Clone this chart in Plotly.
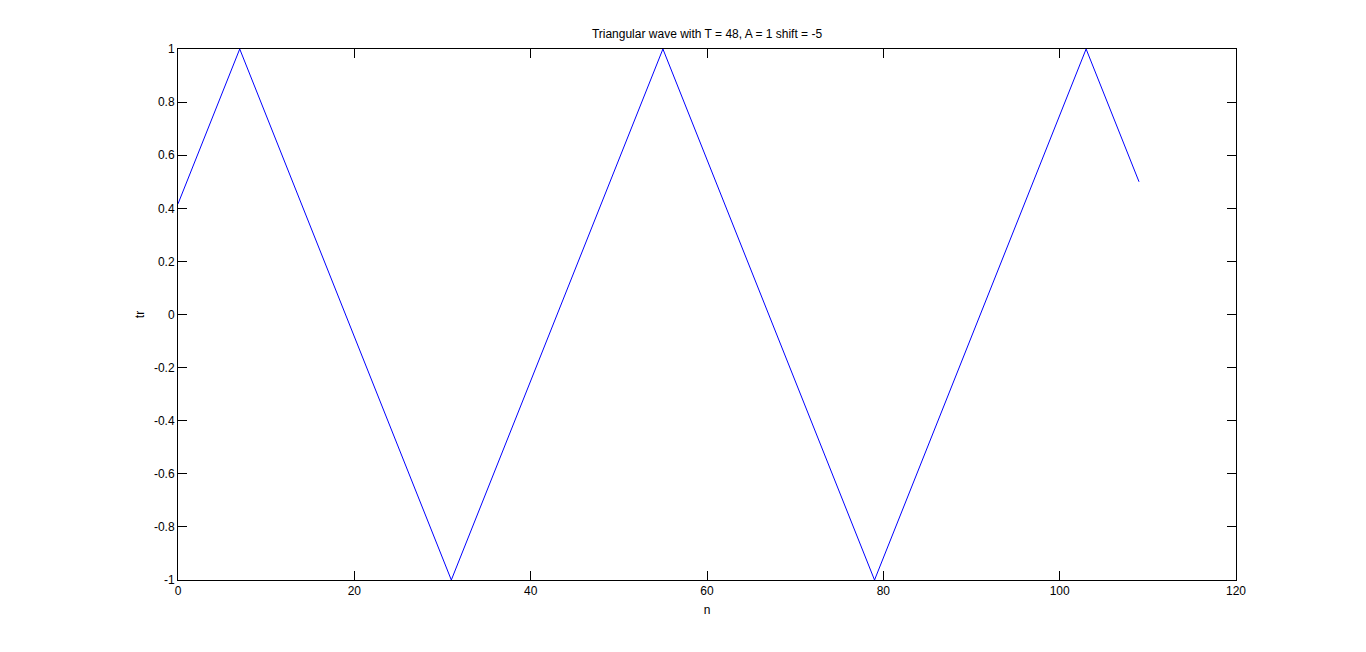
import plotly.graph_objects as go

# vertices of the triangular wave
n_vals = [0, 7, 31, 55, 79, 103, 109]
tr_vals = [0.4167, 1, -1, 1, -1, 1, 0.5]

x_ticks = [0, 20, 40, 60, 80, 100, 120]
y_ticks = [-1, -0.8, -0.6, -0.4, -0.2, 0, 0.2, 0.4, 0.6, 0.8, 1]
y_labels = ["-1", "-0.8", "-0.6", "-0.4", "-0.2", "0", "0.2", "0.4", "0.6", "0.8", "1"]

fig = go.Figure()
fig.add_trace(go.Scatter(x=n_vals, y=tr_vals, mode="lines",
                         line=dict(color="#0000ff", width=1)))

axis_style = dict(showline=True, linecolor="black", linewidth=1, mirror="ticks",
                  ticks="inside", ticklen=9, tickcolor="black", tickwidth=1,
                  showgrid=False, zeroline=False,
                  tickfont=dict(family="Liberation Sans, Arial", size=12, color="black"))

fig.update_xaxes(range=[0, 120], tickvals=x_ticks,
                 title=dict(text="n", standoff=8,
                            font=dict(family="Liberation Sans, Arial", size=12, color="black")),
                 **axis_style)
fig.update_yaxes(range=[-1, 1], tickvals=y_ticks, ticktext=y_labels,
                 title=dict(text="tr", standoff=6,
                            font=dict(family="Liberation Sans, Arial", size=12, color="black")),
                 **axis_style)

# page body adds an 8px offset, margins compensate for it
fig.update_layout(
    width=1366, height=652,
    margin=dict(l=170, r=138, t=41, b=80),
    paper_bgcolor="white", plot_bgcolor="white",
    showlegend=False,
    title=dict(text="Triangular wave with T = 48, A = 1 shift = -5",
               x=(170 + 1228) / 2 / 1366, xanchor="center",
               y=1 - 26 / 652, yanchor="middle", yref="container",
               font=dict(family="Liberation Sans, Arial", size=12, color="black")),
)

fig.write_html("out.html")
